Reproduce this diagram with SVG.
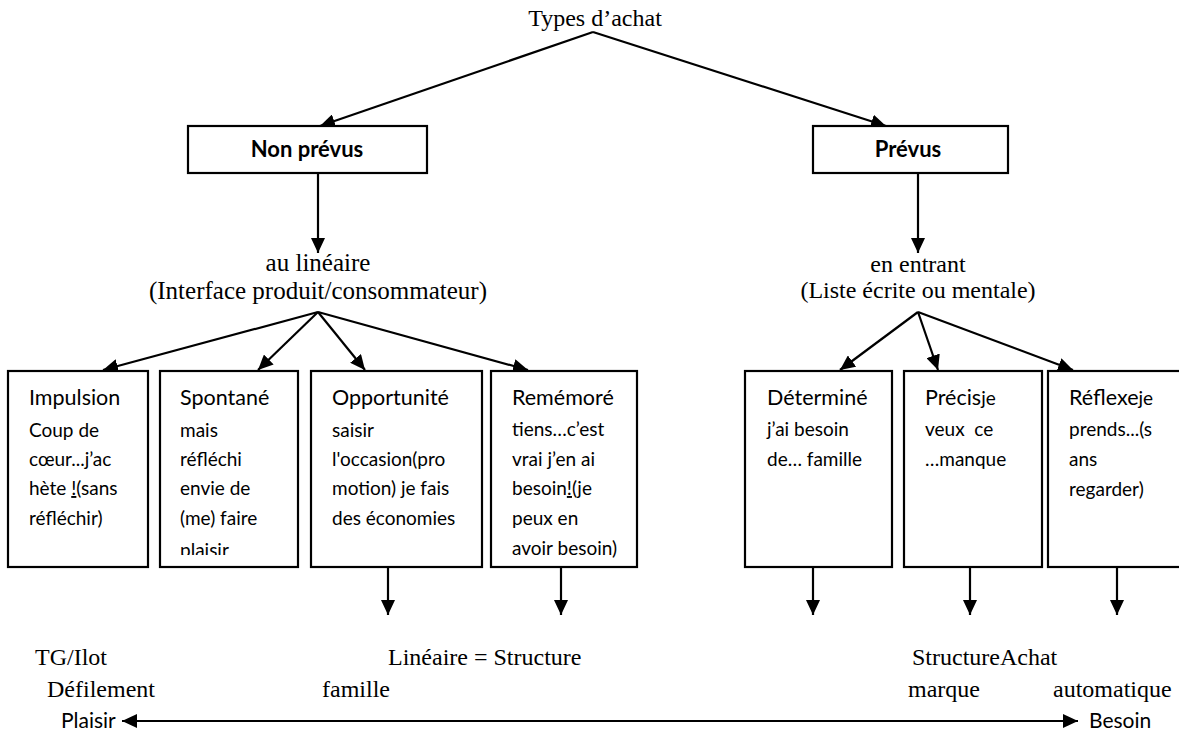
<svg xmlns="http://www.w3.org/2000/svg" width="1179" height="733" viewBox="0 0 1179 733">
  <style>
    .serif { font-family: "Liberation Serif", "Times New Roman", serif; font-size: 24px; fill: #000; }
    .big { font-size: 25px; }
    .box { fill: #fff; stroke: #000; stroke-width: 2.2; }
    .head { font-family: Lato, "Noto Sans", sans-serif; font-size: 22px; font-weight: bold; fill: #000; text-anchor: middle; }
    .title { font-family: Lato, "Noto Sans", sans-serif; font-size: 21.5px; fill: #000; }
    .body { font-family: Lato, "Noto Sans", sans-serif; font-size: 19px; fill: #000; }
    .sans { font-family: Lato, "Noto Sans", sans-serif; font-size: 21px; fill: #000; }
    .link { fill: none; stroke: #000; stroke-width: 2.2; }
  </style>
  <defs>
    <marker id="arrow" viewBox="0 0 15 14" refX="15" refY="7" markerWidth="15" markerHeight="14" markerUnits="userSpaceOnUse" orient="auto-start-reverse">
      <path d="M0,0 L15,7 L0,14 Z" fill="#000"/>
    </marker>
    <clipPath id="clip-spontane">
      <rect x="160" y="371" width="138" height="184"/>
    </clipPath>
  </defs>

  <rect width="1179" height="733" fill="#fff"/>

  <!-- connectors -->
  <g id="connectors">
    <path class="link" d="M593,32 L320,126" marker-end="url(#arrow)"/>
    <path class="link" d="M593,32 L886,126" marker-end="url(#arrow)"/>
    <path class="link" d="M318,173 L318,253" marker-end="url(#arrow)"/>
    <path class="link" d="M918,173 L918,253" marker-end="url(#arrow)"/>
    <path class="link" d="M318,312 L103,370" marker-end="url(#arrow)"/>
    <path class="link" d="M318,312 L258,370" marker-end="url(#arrow)"/>
    <path class="link" d="M318,312 L365,370" marker-end="url(#arrow)"/>
    <path class="link" d="M318,312 L528,370" marker-end="url(#arrow)"/>
    <path class="link" d="M918,312 L840,370" marker-end="url(#arrow)"/>
    <path class="link" d="M918,312 L938,370" marker-end="url(#arrow)"/>
    <path class="link" d="M918,312 L1073,370" marker-end="url(#arrow)"/>
    <path class="link" d="M388,567 L388,615" marker-end="url(#arrow)"/>
    <path class="link" d="M561,567 L561,615" marker-end="url(#arrow)"/>
    <path class="link" d="M813,567 L813,615" marker-end="url(#arrow)"/>
    <path class="link" d="M970,567 L970,615" marker-end="url(#arrow)"/>
    <path class="link" d="M1117,567 L1117,615" marker-end="url(#arrow)"/>
    <path class="link" d="M122,721 L1078,721" marker-start="url(#arrow)" marker-end="url(#arrow)"/>
  </g>

  <!-- root -->
  <g id="types-achat">
    <text class="serif" x="595" y="26" text-anchor="middle" font-size="22">Types d’achat</text>
  </g>

  <!-- first level -->
  <g id="non-prevus">
    <rect class="box" x="188" y="126" width="239" height="47"/>
    <text class="head" x="307" y="157">Non prévus</text>
  </g>
  <g id="prevus">
    <rect class="box" x="813" y="126" width="195" height="47"/>
    <text class="head" x="908" y="157">Prévus</text>
  </g>

  <!-- second level -->
  <g id="au-lineaire">
    <text class="serif big" x="318" y="271" text-anchor="middle">au linéaire</text>
    <text class="serif big" x="318" y="299" text-anchor="middle">(Interface produit/consommateur)</text>
  </g>
  <g id="en-entrant">
    <text class="serif" x="918" y="272" text-anchor="middle">en entrant</text>
    <text class="serif" x="918" y="298" text-anchor="middle">(Liste écrite ou mentale)</text>
  </g>

  <!-- purchase kinds -->
  <g id="impulsion">
    <rect class="box" x="8" y="371" width="140" height="196"/>
    <text class="title" x="29" y="405">Impulsion</text>
    <text class="body" x="29" y="437">Coup de</text>
    <text class="body" x="29" y="466">cœur...j’ac</text>
    <text class="body" x="29" y="495">hète <tspan text-decoration="underline">!</tspan>(sans</text>
    <text class="body" x="29" y="525">réfléchir)</text>
  </g>
  <g id="spontane">
    <rect class="box" x="160" y="371" width="138" height="196"/>
    <g clip-path="url(#clip-spontane)">
      <text class="title" x="180" y="405">Spontané</text>
      <text class="body" x="180" y="437">mais</text>
      <text class="body" x="180" y="466">réfléchi</text>
      <text class="body" x="180" y="495">envie de</text>
      <text class="body" x="180" y="525">(me) faire</text>
      <text class="body" x="180" y="557">plaisir</text>
    </g>
  </g>
  <g id="opportunite">
    <rect class="box" x="311" y="371" width="171" height="196"/>
    <text class="title" x="332" y="405">Opportunité</text>
    <text class="body" x="332" y="437">saisir</text>
    <text class="body" x="332" y="466">l'occasion(pro</text>
    <text class="body" x="332" y="495">motion) je fais</text>
    <text class="body" x="332" y="525">des économies</text>
  </g>
  <g id="rememore">
    <rect class="box" x="491" y="371" width="146" height="196"/>
    <text class="title" x="512" y="405">Remémoré</text>
    <text class="body" x="512" y="436">tiens…c’est</text>
    <text class="body" x="512" y="466">vrai j’en ai</text>
    <text class="body" x="512" y="495">besoin<tspan text-decoration="underline">!</tspan>(je</text>
    <text class="body" x="512" y="525">peux en</text>
    <text class="body" x="512" y="555">avoir besoin)</text>
  </g>
  <g id="determine">
    <rect class="box" x="745" y="371" width="147" height="196"/>
    <text class="title" x="767" y="405">Déterminé</text>
    <text class="body" x="767" y="436">j’ai besoin</text>
    <text class="body" x="767" y="466">de… famille</text>
  </g>
  <g id="precis">
    <rect class="box" x="904" y="371" width="138" height="196"/>
    <text class="title" x="925" y="405">Précis<tspan class="body">je</tspan></text>
    <text class="body" x="925" y="436" xml:space="preserve">veux  ce</text>
    <text class="body" x="925" y="466">…manque</text>
  </g>
  <g id="reflexe">
    <rect class="box" x="1048" y="371" width="140" height="196"/>
    <text class="title" x="1069" y="405">Réflexe<tspan class="body">je</tspan></text>
    <text class="body" x="1069" y="436">prends...(s</text>
    <text class="body" x="1069" y="466">ans</text>
    <text class="body" x="1069" y="496">regarder)</text>
  </g>

  <!-- store layouts along the scale -->
  <g id="tg-ilot">
    <text class="serif" x="35" y="665">TG/Ilot</text>
    <text class="serif" x="47" y="697">Défilement</text>
  </g>
  <g id="lineaire-structure">
    <text class="serif" x="388" y="665">Linéaire = Structure</text>
    <text class="serif" x="322" y="697">famille</text>
  </g>
  <g id="structure-marque">
    <text class="serif" x="912" y="665">StructureAchat</text>
    <text class="serif" x="908" y="697">marque</text>
  </g>
  <g id="achat-automatique">
    <text class="serif" x="1053" y="697" font-size="23">automatique</text>
  </g>

  <!-- scale ends -->
  <g id="plaisir">
    <text class="sans" x="61" y="728">Plaisir</text>
  </g>
  <g id="besoin">
    <text class="sans" x="1089" y="728">Besoin</text>
  </g>
</svg>
